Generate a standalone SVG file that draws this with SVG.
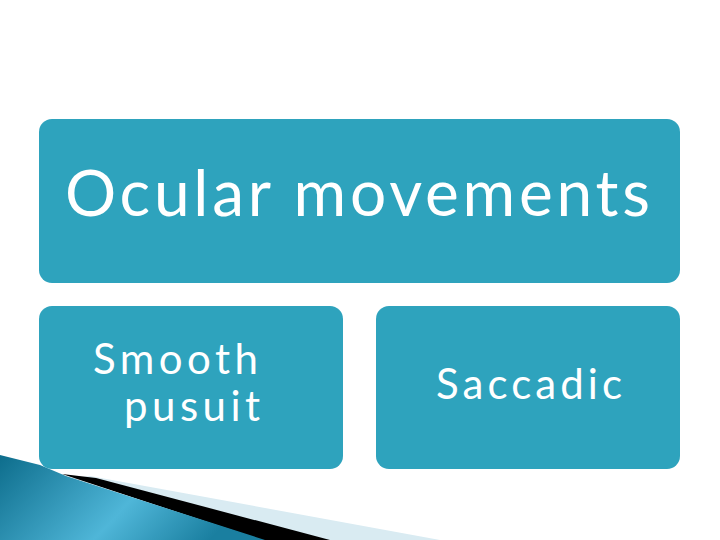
<svg xmlns="http://www.w3.org/2000/svg" width="720" height="540" viewBox="0 0 720 540">
<style>
.box{fill:#2ea3bd}
.t{fill:#fff;font-family:Lato,"DejaVu Sans",sans-serif}
</style>
<defs>
<linearGradient id="g" x1="0" y1="0" x2="1" y2="0.3">
<stop offset="0" stop-color="#0d6d8c"/>
<stop offset="0.6" stop-color="#4fb6d8"/>
<stop offset="1" stop-color="#1a7fa0"/>
</linearGradient>
</defs>
<rect width="720" height="540" fill="#fff"/>
<g id="decor">
<polygon points="90,476 440,540 300,540 72,478" fill="#d9ebf2"/>
<polygon points="62,474 96,478 330,540 262,540" fill="#000"/>
<polygon points="0,455 40,465 66,476 265,540 0,540" fill="url(#g)"/>
</g>
<g id="ocular">
<rect class="box" x="39" y="119" width="641" height="164" rx="13"/>
<text class="t" x="65" y="216" font-size="64" textLength="585" lengthAdjust="spacing">Ocular movements</text>
</g>
<g id="smooth">
<rect class="box" x="39" y="306" width="304" height="163" rx="13"/>
<text class="t" font-size="42"><tspan x="93" y="374" textLength="165" lengthAdjust="spacing">Smooth</tspan><tspan x="124" y="421" textLength="136" lengthAdjust="spacing">pusuit</tspan></text>
</g>
<g id="saccadic">
<rect class="box" x="376" y="306" width="304" height="163" rx="13"/>
<text class="t" x="436" y="399" font-size="42" textLength="186" lengthAdjust="spacing">Saccadic</text>
</g>
<g id="connectors"/>
</svg>
